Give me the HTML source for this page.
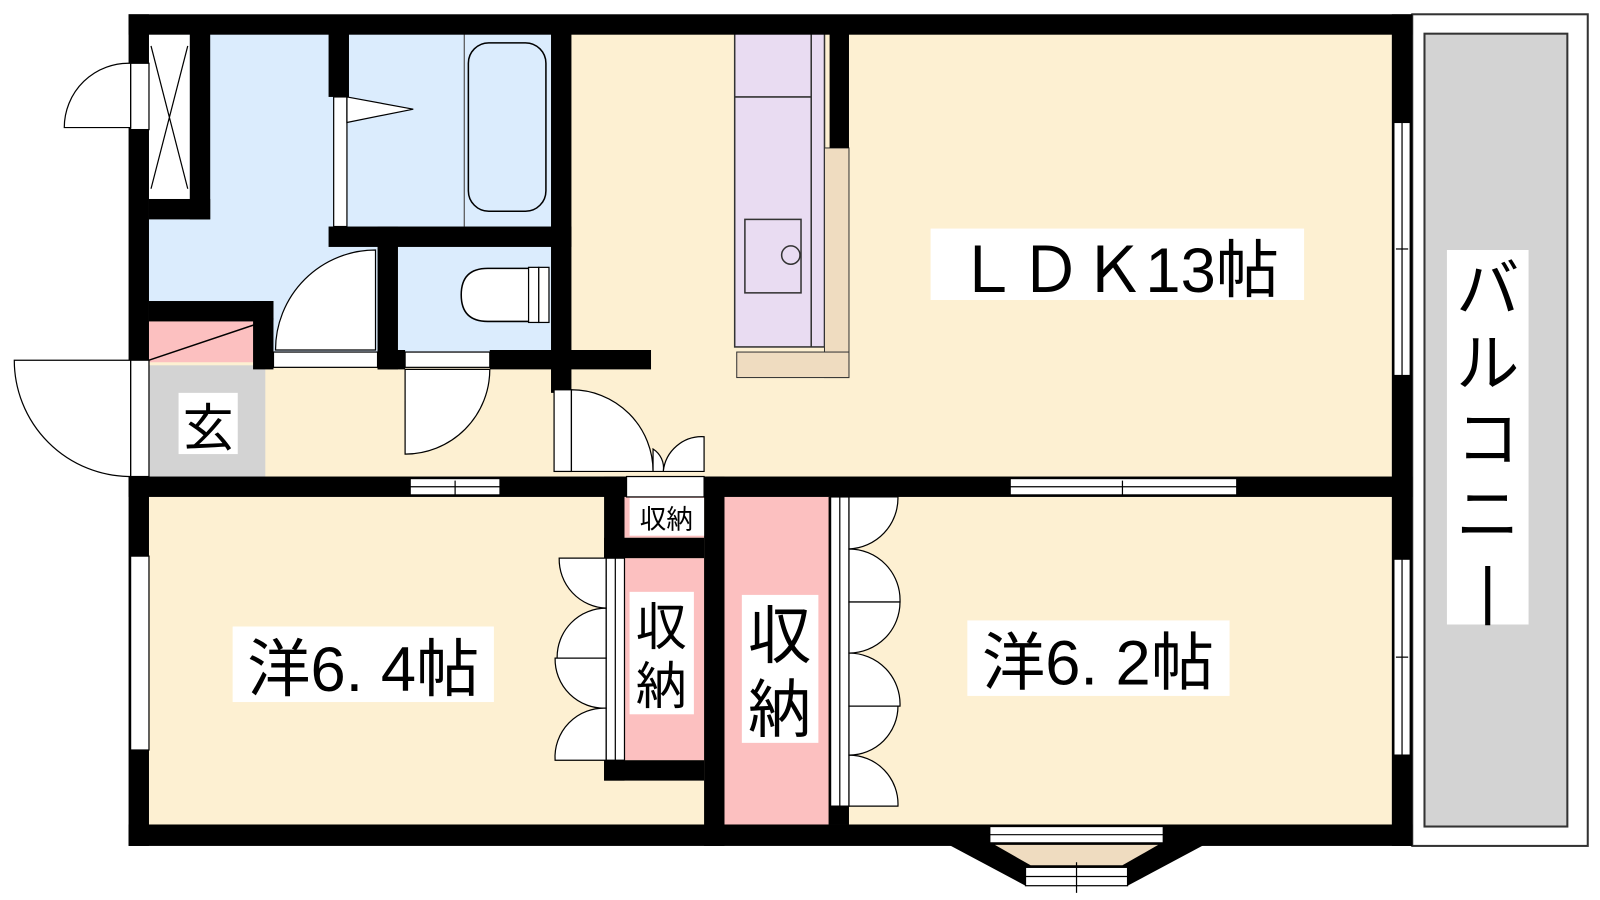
<!DOCTYPE html>
<html><head><meta charset="utf-8"><style>
html,body{margin:0;padding:0;background:#fff;}
svg{display:block}
text{font-family:"Liberation Sans","Noto Sans CJK JP",sans-serif;fill:#000}
</style></head><body>
<svg width="1600" height="900" viewBox="0 0 1568 882" xmlns="http://www.w3.org/2000/svg">
<rect width="1568" height="882" fill="#fff"/>
<rect x="1384" y="14" width="172" height="815" fill="#fff" stroke="#333" stroke-width="2"/>
<rect x="1396" y="33" width="140" height="777" fill="#d3d3d3" stroke="#333" stroke-width="2"/>
<rect x="146" y="33" width="1218" height="434" fill="#fdf0d2"/>
<rect x="146" y="487" width="1218" height="321" fill="#fdf0d2"/>
<rect x="146" y="33" width="176" height="267" fill="#dbecfd"/>
<rect x="206" y="33" width="164" height="312" fill="#dbecfd"/>
<rect x="146" y="215" width="200" height="85" fill="#dbecfd"/>
<rect x="342" y="33" width="198" height="190" fill="#dbecfd"/>
<rect x="390" y="240" width="150" height="105" fill="#dbecfd"/>
<rect x="146" y="358" width="114" height="109" fill="#d3d3d3"/>
<rect x="146" y="315" width="102" height="40" fill="#fcc0c0"/>
<line x1="146" y1="353" x2="268" y2="312" stroke="#000" stroke-width="1.5"/>
<rect x="146" y="33" width="40" height="162" fill="#fff"/>
<path d="M148 45 L184 185 M184 45 L148 185" stroke="#000" stroke-width="1.2" fill="none"/>
<line x1="455" y1="33" x2="455" y2="222" stroke="#555" stroke-width="1.2"/>
<rect x="459" y="42" width="76" height="165" rx="20" fill="none" stroke="#000" stroke-width="1.5"/>
<rect x="327" y="95" width="13" height="127" fill="#fff" stroke="#000" stroke-width="1.2"/>
<polygon points="340,95 405,107 340,120" fill="#fff" stroke="#000" stroke-width="1.2"/>
<path d="M520 263 L478 263 Q452 263 452 289 Q452 315 478 315 L520 315 Z" fill="#fff" stroke="#000" stroke-width="1.5"/>
<rect x="518" y="262" width="10" height="54" fill="#fff" stroke="#000" stroke-width="1.2"/>
<rect x="528" y="262" width="10" height="54" fill="#fff" stroke="#000" stroke-width="1.2"/>
<rect x="720" y="33" width="88" height="307" fill="#e9dcf2" stroke="#333" stroke-width="1.5"/>
<line x1="720" y1="95" x2="795" y2="95" stroke="#333" stroke-width="1.5"/>
<line x1="795" y1="33" x2="795" y2="340" stroke="#333" stroke-width="1.5"/>
<rect x="730" y="215" width="55" height="72" fill="none" stroke="#333" stroke-width="1.5"/>
<circle cx="775" cy="250" r="9" fill="none" stroke="#333" stroke-width="1.5"/>
<rect x="808" y="145" width="24" height="225" fill="#efdcc0" stroke="#333" stroke-width="1"/>
<rect x="722" y="345" width="110" height="25" fill="#efdcc0" stroke="#333" stroke-width="1"/>
<rect x="612" y="487" width="78" height="40" fill="#fcc0c0"/>
<rect x="612" y="547" width="78" height="198" fill="#fcc0c0"/>
<rect x="710" y="487" width="102" height="321" fill="#fcc0c0"/>
<g fill="#000">
<rect x="126" y="14" width="1258" height="20"/>
<rect x="126" y="808" width="1258" height="21"/>
<rect x="126" y="14" width="20" height="815"/>
<rect x="1364" y="14" width="20" height="815"/>
<rect x="186" y="33" width="20" height="182"/>
<rect x="146" y="195" width="60" height="20"/>
<rect x="322" y="33" width="20" height="62"/>
<rect x="322" y="222" width="238" height="20"/>
<rect x="370" y="222" width="20" height="140"/>
<rect x="540" y="33" width="20" height="352"/>
<rect x="480" y="343" width="158" height="19"/>
<rect x="146" y="295" width="122" height="20"/>
<rect x="248" y="295" width="20" height="67"/>
<rect x="370" y="343" width="27" height="19"/>
<rect x="813" y="33" width="19" height="112"/>
<rect x="126" y="467" width="1258" height="20"/>
<rect x="592" y="467" width="20" height="298"/>
<rect x="592" y="527" width="98" height="20"/>
<rect x="592" y="745" width="98" height="20"/>
<rect x="690" y="467" width="20" height="362"/>
<rect x="812" y="487" width="20" height="321"/>
<polygon points="930,828 1005,868 1105,868 1180,828"/>
</g>
<g fill="#fff" stroke="#000" stroke-width="1.2">
<rect x="128" y="62" width="18" height="65"/>
<rect x="128" y="353" width="18" height="114"/>
<rect x="128" y="545" width="18" height="190"/>
<rect x="1366" y="120" width="16" height="248"/>
<rect x="1366" y="548" width="16" height="192"/>
<rect x="402" y="469" width="88" height="16"/>
<rect x="990" y="469" width="222" height="16"/>
<rect x="268" y="345" width="102" height="15"/>
<rect x="397" y="345" width="83" height="15"/>
<rect x="543" y="382" width="17" height="80"/>
<rect x="614" y="467" width="76" height="20"/>
<rect x="594" y="547" width="18" height="198"/>
<rect x="814" y="487" width="18" height="303"/>
<rect x="970" y="810" width="170" height="16"/>
<rect x="1005" y="850" width="100" height="18"/>
</g>
<polygon points="975,828 1135,828 1100,848 1010,848" fill="#efdcc0"/>
<g stroke="#000" stroke-width="1.2" fill="#fff">
<path d="M128 62 A63 63 0 0 0 63 125 L128 125 Z"/>
<path d="M128 353 L14 353 A114 114 0 0 0 128 467 Z"/>
<path d="M368 245 L368 343 L270 343 A98 98 0 0 1 368 245 Z"/>
<path d="M397 362 L397 445 A83 83 0 0 0 480 362 Z"/>
<path d="M560 382 A80 80 0 0 1 640 462 L560 462 Z"/>
<path d="M650 462 A38 38 0 0 1 690 428 L690 462 Z"/>
<path d="M650 462 A22 22 0 0 0 640 440 L640 462 Z"/>
<path d="M594 547 L548 547 A48 48 0 0 0 594 596 Z"/>
<path d="M594 596 A48 48 0 0 0 546 645 L594 645 Z"/>
<path d="M594 645 L544 645 A48 48 0 0 0 594 694 Z"/>
<path d="M594 694 A48 48 0 0 0 544 745 L594 745 Z"/>
<path d="M832 487 L880 487 A50 50 0 0 1 832 538 Z"/>
<path d="M832 538 A50 50 0 0 1 882 590 L832 590 Z"/>
<path d="M832 590 L882 590 A50 50 0 0 1 832 640 Z"/>
<path d="M832 640 A50 50 0 0 1 882 692 L832 692 Z"/>
<path d="M832 692 L880 692 A48 48 0 0 1 832 740 Z"/>
<path d="M832 740 A48 48 0 0 1 880 790 L832 790 Z"/>
</g>
<g stroke="#000" stroke-width="1.2" fill="none">
<line x1="1374" y1="120" x2="1374" y2="368"/><line x1="1368" y1="244" x2="1380" y2="244"/>
<line x1="1374" y1="548" x2="1374" y2="740"/><line x1="1368" y1="644" x2="1380" y2="644"/>
<line x1="402" y1="477" x2="490" y2="477"/><line x1="446" y1="471" x2="446" y2="485"/>
<line x1="990" y1="477" x2="1212" y2="477"/><line x1="1100" y1="471" x2="1100" y2="485"/>
<line x1="1005" y1="859" x2="1105" y2="859"/><line x1="1055" y1="845" x2="1055" y2="875"/>
<line x1="970" y1="818" x2="1140" y2="818"/>
<line x1="603" y1="547" x2="603" y2="745"/>
<line x1="823" y1="487" x2="823" y2="790"/>
</g>
<rect x="175" y="385" width="58" height="60" fill="#fff"/>
<text x="204" y="437" font-size="50" text-anchor="middle">玄</text>
<rect x="912" y="224" width="366" height="70" fill="#fff"/>
<text x="1095" y="286" font-size="62" text-anchor="middle">ＬＤＫ13帖</text>
<rect x="617" y="488" width="73" height="37" fill="#fff"/>
<text x="653" y="518" font-size="26" text-anchor="middle">収納</text>
<rect x="617" y="580" width="63" height="120" fill="#fff"/>
<text x="648" y="632" font-size="50" text-anchor="middle">収</text>
<text x="648" y="690" font-size="50" text-anchor="middle">納</text>
<rect x="727" y="583" width="75" height="145" fill="#fff"/>
<text x="764" y="645" font-size="62" text-anchor="middle">収</text>
<text x="764" y="717" font-size="62" text-anchor="middle">納</text>
<rect x="228" y="614" width="256" height="74" fill="#fff"/>
<text x="356" y="677" font-size="62" text-anchor="middle">洋6. 4帖</text>
<rect x="948" y="608" width="257" height="74" fill="#fff"/>
<text x="1076" y="671" font-size="62" text-anchor="middle">洋6. 2帖</text>
<rect x="1418" y="245" width="80" height="367" fill="#fff"/>
<g font-size="62" text-anchor="middle">
<text x="1458" y="305">バ</text>
<text x="1458" y="378">ル</text>
<text x="1458" y="452">コ</text>
<text x="1458" y="526">ニ</text>
<text x="1458" y="600">|</text>
</g>
</svg>
</body></html>
